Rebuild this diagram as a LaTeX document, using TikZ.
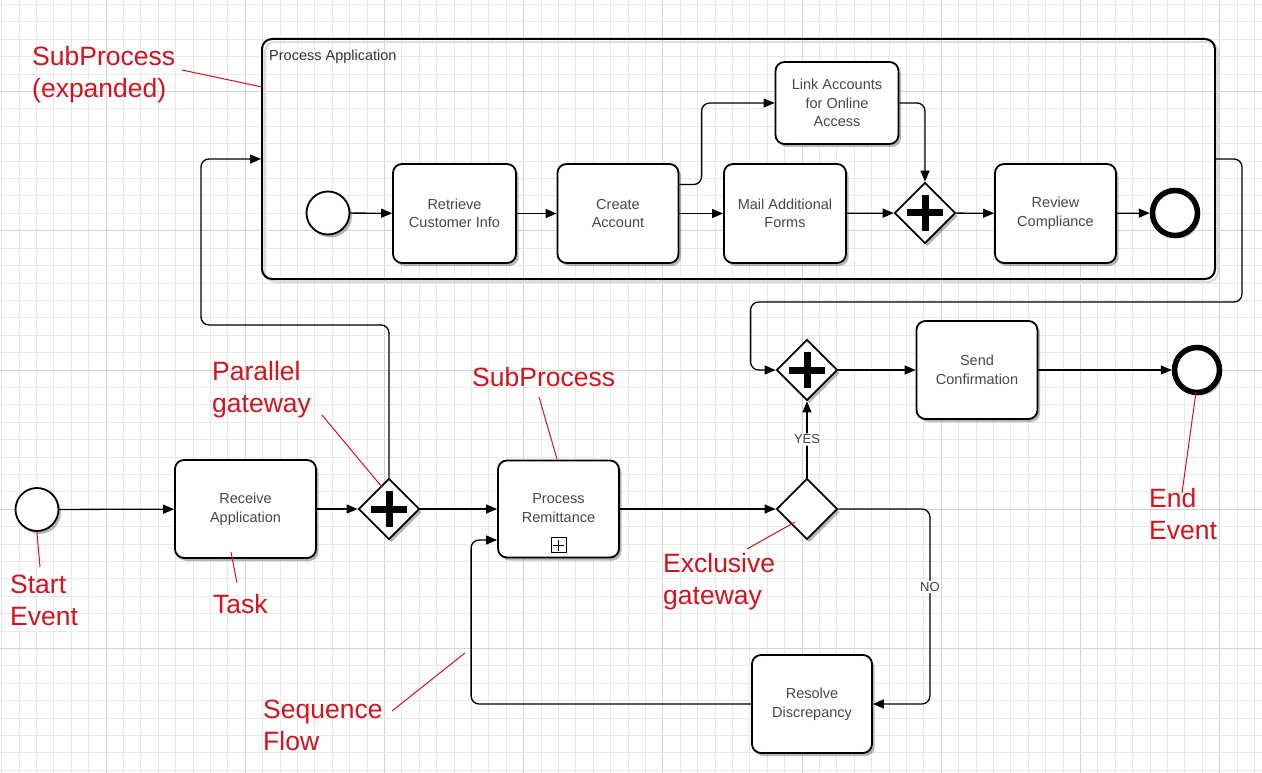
\documentclass[tikz,border=0pt]{standalone}
\usepackage{fontspec}
\setmainfont{Liberation Sans}
\usetikzlibrary{shapes.geometric,arrows.meta,shadows,calc}
\definecolor{annred}{RGB}{210,20,30}
\begin{document}
\begin{tikzpicture}[x=1pt,y=-1pt,
  gridminor/.style={draw=black!9, line width=1pt},
  gridmajor/.style={draw=black!17, line width=1pt},
  shad/.style={drop shadow={shadow xshift=2.5pt, shadow yshift=-3pt, opacity=0.28, fill=black}},
  task/.style={rectangle, draw=black, line width=1.8pt, rounded corners=9pt, fill=white, shad,
    inner sep=2pt, align=center, text=black!72, font=\fontsize{14.5}{18.5}\selectfont,
    minimum width=121pt, minimum height=98pt},
  gate/.style={diamond, draw=black, line width=1.8pt, fill=white, shad, inner sep=0pt,
    minimum width=61pt, minimum height=61pt},
  pargate/.style={gate, path picture={
    \draw[line width=7pt] ([xshift=-18pt]path picture bounding box.center) -- ([xshift=18pt]path picture bounding box.center);
    \draw[line width=7pt] ([yshift=-18pt]path picture bounding box.center) -- ([yshift=18pt]path picture bounding box.center);}},
  startev/.style={circle, draw=black, line width=1.8pt, fill=white, shad, inner sep=0pt, minimum size=43pt},
  endev/.style={circle, draw=black, line width=5.5pt, fill=white, shad, inner sep=0pt, minimum size=45pt},
  container/.style={rectangle, draw=black, line width=2pt, rounded corners=10pt, inner sep=0pt},
  flow/.style={draw=black, line width=1.3pt, -{Triangle[length=11pt,width=9pt]}, rounded corners=8pt},
  lbl/.style={font=\fontsize{13}{15}\selectfont, text=black!75, fill=white, inner sep=1.5pt},
  ann/.style={font=\fontsize{26.5}{32}\selectfont, text=annred, align=left, anchor=north west, inner sep=0pt},
  annline/.style={draw=annred, line width=1pt},
]
\useasboundingbox (0,0) rectangle (1262,773);
\fill[white] (0,0) rectangle (1262,773);
% grid
\foreach \i in {0,...,72} {
  \pgfmathtruncatemacro{\m}{mod(\i+2,8)}
  \ifnum\m=0 \draw[gridmajor] ({1.7+17.4*\i},0) -- ({1.7+17.4*\i},773);
  \else \draw[gridminor] ({1.7+17.4*\i},0) -- ({1.7+17.4*\i},773); \fi
}
\foreach \j in {0,...,44} {
  \pgfmathtruncatemacro{\m}{mod(\j+3,8)}
  \ifnum\m=0 \draw[gridmajor] (0,{4.6+17.4*\j}) -- (1262,{4.6+17.4*\j});
  \else \draw[gridminor] (0,{4.6+17.4*\j}) -- (1262,{4.6+17.4*\j}); \fi
}

% expanded subprocess
\draw[black!14, line width=2pt, rounded corners=10pt] (265,42) rectangle (1218,282);
\node[container, minimum width=953pt, minimum height=240pt] (sub) at (738.5,159) {};
\node[anchor=north west, inner sep=0pt, font=\fontsize{14.5}{17}\selectfont, text=black!80] (subttl) at (269,49.5) {Process Application};

% inner nodes
\node[startev] (is) at (328,213) {};
\node[task, minimum width=123pt, minimum height=99pt] (ret) at (454.5,213.5) {Retrieve\\Customer Info};
\node[task, minimum height=99pt] (cre) at (618,213.5) {Create\\Account};
\node[task, minimum width=122pt, minimum height=99pt] (mail) at (785,213.5) {Mail Additional\\Forms};
\node[task, minimum width=123pt, minimum height=82pt] (link) at (837,103) {Link Accounts\\for Online\\Access};
\node[pargate] (ipg) at (925,213) {};
\node[task, minimum height=99pt] (rev) at (1055.5,213.5) {Review\\Compliance};
\node[endev] (ie) at (1175,213) {};

% main nodes
\node[startev] (s0) at (37,509.5) {};
\node[task, minimum width=141pt] (recv) at (245.5,509) {Receive\\Application};
\node[pargate] (pg1) at (389,509) {};
\node[task, minimum height=97pt] (rem) at (558.5,509) {};
\node[text=black!72, font=\fontsize{14.5}{18.5}\selectfont, align=center, inner sep=0pt] (remtxt) at (558.5,508) {Process\\Remittance};
\node[draw=black, line width=1pt, minimum size=15pt, inner sep=0pt] (mk) at (558.5,545) {};
\draw[line width=1pt] ([yshift=-2.5pt]mk.north) -- ([yshift=2.5pt]mk.south) ([xshift=2.5pt]mk.west) -- ([xshift=-2.5pt]mk.east);
\node[gate] (xg) at (807,509) {};
\node[pargate] (pg2) at (807,370) {};
\node[task] (send) at (977,370) {Send\\Confirmation};
\node[endev] (e0) at (1197,370) {};
\node[task, minimum width=120pt] (res) at (812,704) {Resolve\\Discrepancy};

% flows
\draw[flow] (s0) -- (recv);
\draw[flow] (recv) -- (pg1);
\draw[flow] (pg1) -- (rem);
\draw[flow] (pg1.north) |- (201,325) |- (sub.west);
\draw[flow] (sub.east) -| (1242,302) -| ($(pg2.west)+(-25,0)$) -- (pg2.west);
\draw[flow] (rem) -- (xg);
\draw[flow] (xg) -- node[lbl]{YES} (pg2);
\draw[flow] (xg.east) -| node[lbl, pos=0.70]{NO} ($(res.east)+(57,0)$) -- (res.east);
\draw[flow] (res.west) -| ($(rem.west)+(-26,31)$) -- ($(rem.west)+(0,31)$);
\draw[flow] (pg2) -- (send);
\draw[flow] (send) -- (e0);
\draw[flow] (is) -- (ret);
\draw[flow] (ret) -- (cre);
\draw[flow] (cre) -- (mail);
\draw[flow] ($(cre.east)+(0,-29)$) -| ($(link.west)+(-73,0)$) -- (link.west);
\draw[flow] (link.east) -| (ipg.north);
\draw[flow] (mail) -- (ipg);
\draw[flow] (ipg) -- (rev);
\draw[flow] (rev) -- (ie);

% annotations
\node[ann] (a1) at (32,46) {SubProcess\\(expanded)};
\node[ann] (a2) at (212,361) {Parallel\\gateway};
\node[ann] (a3) at (472,367) {SubProcess};
\node[ann] (a4) at (10,575) {Start\\Event};
\node[ann] (a5) at (213,594) {Task};
\node[ann] (a6) at (663,553) {Exclusive\\gateway};
\node[ann] (a7) at (263,700) {Sequence\\Flow};
\node[ann] (a8) at (1149,488) {End\\Event};
\coordinate (c1) at (182,70); \coordinate (d1) at (262,87);
\coordinate (c2) at (322,415); \coordinate (d2) at (382,487);
\coordinate (c3) at (539,397); \coordinate (d3) at (557,459);
\coordinate (c4) at (37,533); \coordinate (d4) at (40,567);
\coordinate (c5) at (231,552); \coordinate (d5) at (237,583);
\coordinate (c6) at (747,549); \coordinate (d6) at (795,522);
\coordinate (c7) at (392,711); \coordinate (d7) at (465,653);
\coordinate (c8) at (1196,392); \coordinate (d8) at (1182,493);
\foreach \k in {1,...,8} \draw[annline] (c\k) -- (d\k);
\end{tikzpicture}
\end{document}
